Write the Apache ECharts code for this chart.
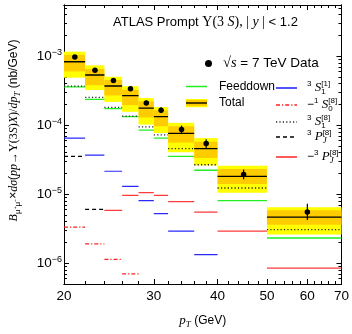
<!DOCTYPE html>
<html>
<head>
<meta charset="utf-8">
<script src="https://cdn.jsdelivr.net/npm/echarts@6/dist/echarts.min.js"></script>
<style>
  html, body { margin: 0; padding: 0; background: #fff; }
  #chart { width: 352px; height: 334px; }
</style>
</head>
<body>
<div id="chart"></div>
<script>
// pT bin edges (GeV)
const binEdges = [20, 22, 24, 26, 28, 30, 32, 36, 40, 50, 70];

// ATLAS measurement: bin centres, values and error bars (nb/GeV)
const dataPt = [21, 23, 25, 27, 29, 31, 34, 38, 45, 60];
const dataVal = [9.7e-4, 6.26e-4, 4.45e-4, 3.37e-4, 2.10e-4, 1.65e-4, 8.66e-5, 5.40e-5, 1.93e-5, 5.53e-6];
const dataLow = [9.1e-4, 5.87e-4, 4.17e-4, 3.16e-4, 1.94e-4, 1.50e-4, 7.62e-5, 4.68e-5, 1.64e-5, 4.21e-6];
const dataHigh = [1.03e-3, 6.67e-4, 4.74e-4, 3.59e-4, 2.27e-4, 1.82e-4, 9.85e-5, 6.24e-5, 2.27e-5, 7.27e-6];

// theory total with its two uncertainty bands
const totalVal = [8.28e-4, 5.33e-4, 3.69e-4, 2.67e-4, 1.77e-4, 1.33e-4, 7.62e-5, 4.56e-5, 1.81e-5, 4.66e-6];
const outerLow = [4.87e-4, 3.23e-4, 2.17e-4, 1.56e-4, 1.02e-4, 7.69e-5, 4.05e-5, 2.61e-5, 1.05e-5, 2.60e-6];
const outerHigh = [1.16e-3, 7.35e-4, 5.03e-4, 3.67e-4, 2.47e-4, 1.83e-4, 1.08e-4, 6.49e-5, 2.58e-5, 6.49e-6];
const innerLow = [6.00e-4, 3.79e-4, 2.69e-4, 1.95e-4, 1.29e-4, 9.63e-5, 5.58e-5, 3.34e-5, 1.40e-5, 3.61e-6];
const innerHigh = [1.04e-3, 6.51e-4, 4.50e-4, 3.26e-4, 2.22e-4, 1.64e-4, 9.63e-5, 5.76e-5, 2.31e-5, 5.84e-6];

// individual contributions (negative ones shown as magnitudes)
const feeddown = [3.59e-4, 2.37e-4, 1.73e-4, 1.33e-4, 8.47e-5, 6.49e-5, 3.53e-5, 2.22e-5, 8.05e-6, 2.32e-6];
const s1Octet = [3.67e-4, 2.52e-4, 1.81e-4, 1.35e-4, 9.41e-5, 7.21e-5, 4.56e-5, 2.67e-5, 1.23e-5, 3.07e-6];
const s1Singlet = [6.49e-5, 3.68e-5, 2.15e-5, 1.30e-5, 8.05e-6, 5.24e-6, 2.91e-6, 1.33e-6, null, null];
const s0OctetNeg = [3.34e-6, 1.90e-6, 1.14e-6, 7.0e-7, null, null, null, null, null, null];
const pjOctet = [3.53e-5, 6.03e-6, null, null, null, null, null, null, null, null];
const pjOctetNeg = [null, null, 5.84e-6, 9.63e-6, 1.05e-5, 9.63e-6, 7.79e-6, 5.48e-6, 2.91e-6, 8.5e-7];

// axis ticks
const xLabelTicks = [20, 30, 40, 50, 60, 70];
const xMinorTicks = [22, 24, 26, 28, 32, 34, 36, 38, 42, 44, 46, 48, 52, 54, 56, 58, 62, 64, 66, 68];
const yLabelTicks = [1e-6, 1e-5, 1e-4, 1e-3];
const yMinorTicks = [5e-7, 6e-7, 7e-7, 8e-7, 9e-7,
  2e-6, 3e-6, 4e-6, 5e-6, 6e-6, 7e-6, 8e-6, 9e-6,
  2e-5, 3e-5, 4e-5, 5e-5, 6e-5, 7e-5, 8e-5, 9e-5,
  2e-4, 3e-4, 4e-4, 5e-4, 6e-4, 7e-4, 8e-4, 9e-4,
  2e-3, 3e-3, 4e-3, 5e-3];

const X_MIN = 20, X_MAX = 70, Y_MIN = 5e-7, Y_MAX = 5.5e-3;
const SANS = '"Liberation Sans", Arial, sans-serif';
const SERIF = '"Liberation Serif", "DejaVu Serif", serif';

// horizontal per-bin segments, broken between bins
function segments(vals) {
  const out = [];
  vals.forEach((v, i) => {
    if (v == null) return;
    out.push([binEdges[i], v], [binEdges[i + 1], v], [binEdges[i + 1], null]);
  });
  return out;
}

// rich-text styles; "subz" has no advance so the following superscript stacks above it
function makeRich(base) {
  return {
    n: { fontFamily: SANS, fontSize: base, fontWeight: 'normal', lineHeight: 16, color: '#000' },
    m: { fontFamily: SERIF, fontSize: base + 1, fontWeight: 'normal', lineHeight: 16, color: '#000' },
    mi: { fontFamily: SERIF, fontStyle: 'italic', fontWeight: 'normal', fontSize: base + 1, lineHeight: 16, color: '#000' },
    sup: { fontFamily: SANS, fontSize: 8, fontWeight: 'normal', lineHeight: 8, verticalAlign: 'top', color: '#000' },
    sub: { fontFamily: SANS, fontSize: 8, fontWeight: 'normal', lineHeight: 8, verticalAlign: 'bottom', color: '#000' },
    subz: { fontFamily: SANS, fontSize: 8, fontWeight: 'normal', lineHeight: 8, verticalAlign: 'bottom', color: '#000', width: 0.01 },
    subiz: { fontFamily: SERIF, fontStyle: 'italic', fontWeight: 'normal', fontSize: 9, lineHeight: 8, verticalAlign: 'bottom', color: '#000', width: 0.01 },
    subi: { fontFamily: SERIF, fontStyle: 'italic', fontWeight: 'normal', fontSize: 9, lineHeight: 8, verticalAlign: 'bottom', color: '#000' }
  };
}
const rich = makeRich(12);

const legendText = {
  'Data': '{m|√}{mi|s}{n| = 7 TeV Data}',
  'Feeddown': '{n|Feeddown}',
  'Total': '{n|Total}',
  '3S1[1]': '{sup|3}{mi| S}{subz|1}{sup|[1]}',
  '-1S0[8]': '{n|−}{sup|1}{mi| S}{subz|0}{sup|[8]}',
  '3S1[8]': '{sup|3}{mi| S}{subz|1}{sup|[8]}',
  '3PJ[8]': '{sup|3}{mi| P}{subiz|J}{sup|[8]}',
  '-3PJ[8]': '{n|−}{sup|3}{mi| P}{subiz|J}{sup|[8]}'
};

function svgIcon(body, h) {
  return 'image://data:image/svg+xml;utf8,' + encodeURIComponent(
    "<svg xmlns='http://www.w3.org/2000/svg' width='21' height='" + h + "'>" + body + "</svg>");
}
function lineIcon(color, dash, width) {
  return svgIcon("<line x1='0' y1='4' x2='21' y2='4' stroke='" + color + "' stroke-width='" + width + "'" +
    (dash ? " stroke-dasharray='" + dash + "'" : '') + "/>", 8);
}
const totalIcon = svgIcon(
  "<rect width='21' height='9' fill='#ffff00'/>" +
  "<rect y='1.5' width='21' height='6' fill='#ffcc00'/>" +
  "<rect y='3.8' width='21' height='1.4' fill='#000'/>", 9);

const legendLayout = [
  { name: 'Data', left: 205, top: 56, icon: 'circle', w: 7, h: 7, pad: 6, font: 13.5 },
  { name: 'Feeddown', left: 186, top: 80.5, icon: lineIcon('#22ee22', '', 1.6), w: 21, h: 8, pad: 7 },
  { name: 'Total', left: 186, top: 97, icon: totalIcon, w: 21, h: 9, pad: 7 },
  { name: '3S1[1]', left: 276, top: 80, icon: lineIcon('#2a2aff', '', 1.6), w: 21, h: 8, pad: 5 },
  { name: '-1S0[8]', left: 276, top: 97, icon: lineIcon('#ff2020', '4,2,1.2,2', 1.5), w: 21, h: 8, pad: 5 },
  { name: '3S1[8]', left: 276, top: 114, icon: lineIcon('#222', '1.2,2.2', 1.5), w: 21, h: 8, pad: 5 },
  { name: '3PJ[8]', left: 276, top: 129, icon: lineIcon('#000', '4,3', 1.6), w: 21, h: 8, pad: 5 },
  { name: '-3PJ[8]', left: 276, top: 149, icon: lineIcon('#ff5a5a', '', 2), w: 21, h: 8, pad: 5 }
];

const legends = legendLayout.map(l => ({
  data: [{ name: l.name, icon: l.icon }],
  left: l.left, top: l.top, padding: 0, orient: 'horizontal',
  itemWidth: l.w, itemHeight: l.h, selectedMode: false,
  itemStyle: l.name === 'Data' ? { color: '#000' } : undefined,
  formatter: name => legendText[name],
  textStyle: { rich: l.font ? makeRich(l.font) : rich, padding: [0, 0, 0, l.pad] }
}));

const tickLine = { color: '#000', width: 1 };

function xAxisDef(pos, ticks, len, labels) {
  return {
    type: 'log', logBase: 10, min: X_MIN, max: X_MAX, position: pos,
    axisLine: { show: true, lineStyle: tickLine },
    axisTick: { show: true, inside: true, length: len, customValues: ticks, lineStyle: tickLine },
    axisLabel: labels ? {
      show: true, customValues: xLabelTicks, margin: 5,
      formatter: v => String(Math.round(v)),
      fontFamily: SANS, fontSize: 13.5, color: '#000'
    } : { show: false },
    splitLine: { show: false }, minorTick: { show: false }
  };
}
function yAxisDef(pos, ticks, len, labels) {
  return {
    type: 'log', logBase: 10, min: Y_MIN, max: Y_MAX, position: pos,
    axisLine: { show: true, lineStyle: tickLine },
    axisTick: { show: true, inside: true, length: len, customValues: ticks, lineStyle: tickLine },
    axisLabel: labels ? {
      show: true, customValues: yLabelTicks, margin: 2,
      formatter: v => {
        const e = Math.round(Math.log10(v));
        return '{b|10}{s|' + (e < 0 ? '−' : '') + Math.abs(e) + '}';
      },
      rich: {
        b: { fontFamily: SANS, fontSize: 13.5, lineHeight: 17, color: '#000' },
        s: { fontFamily: SANS, fontSize: 9, lineHeight: 9, verticalAlign: 'top', color: '#000' }
      }
    } : { show: false },
    splitLine: { show: false }, minorTick: { show: false }
  };
}

const xAxes = [
  xAxisDef('bottom', xLabelTicks, 5, true),
  xAxisDef('bottom', xMinorTicks, 3, false),
  xAxisDef('top', xLabelTicks, 5, false),
  xAxisDef('top', xMinorTicks, 3, false)
];
Object.assign(xAxes[0], {
  name: '{pi|p}{subi|T}{n| (GeV)}', nameLocation: 'middle', nameGap: 29,
  nameTextStyle: { rich: Object.assign({}, rich, {
    pi: { fontFamily: SERIF, fontStyle: 'italic', fontSize: 13, lineHeight: 16, color: '#000' }
  }) }
});
const yAxes = [
  yAxisDef('left', yLabelTicks, 5, true),
  yAxisDef('left', yMinorTicks, 3, false),
  yAxisDef('right', yLabelTicks, 5, false),
  yAxisDef('right', yMinorTicks, 3, false)
];
Object.assign(yAxes[0], {
  name: '{it|B}{sub|μ⁺μ⁻}{n|×}{it|dσ}{n|(}{it|pp}{n|→}{m|Υ(3}{it|S}{m|)}{it|X}{m|)/}{it|dp}{subi|T}{n| (nb/GeV)}',
  nameLocation: 'middle', nameGap: 42, nameRotate: 90,
  nameTextStyle: { rich: Object.assign({}, rich, {
    it: { fontFamily: SERIF, fontStyle: 'italic', fontSize: 12, lineHeight: 16, color: '#000' },
    m: { fontFamily: SERIF, fontSize: 12, lineHeight: 16, color: '#000' }
  }), padding: [0, 0, 0, 28] }
});

function lineSeries(name, vals, color, type, width) {
  return {
    name: name, type: 'line', data: segments(vals), symbol: 'none',
    connectNulls: false, animation: false, silent: true,
    lineStyle: { color: color, width: width || 1.2, type: type || 'solid' },
    itemStyle: { color: color }
  };
}

const option = {
  animation: false,
  backgroundColor: '#fff',
  title: {
    text: '{n|ATLAS Prompt }{m|Υ(3 }{mi|S}{m|), | }{mi|y}{m| | }{n|< 1.2}',
    left: 113, top: 14, padding: 0,
    textStyle: { fontWeight: 'normal', rich: makeRich(13) }
  },
  legend: legends,
  grid: { left: 55, right: 8, top: 5, bottom: 39, containLabel: false },
  xAxis: xAxes,
  yAxis: yAxes,
  series: [
    {
      name: 'Total band', type: 'custom', silent: true,
      data: binEdges.slice(0, -1).map((e, i) =>
        [e, binEdges[i + 1], outerLow[i], outerHigh[i], innerLow[i], innerHigh[i]]),
      renderItem: (params, api) => {
        const rect = (x0, x1, y0, y1, fill) => {
          const p0 = api.coord([x0, y1]);
          const p1 = api.coord([x1, y0]);
          return { type: 'rect', shape: { x: p0[0], y: p0[1], width: p1[0] - p0[0], height: p1[1] - p0[1] },
                   style: { fill: fill } };
        };
        const x0 = api.value(0), x1 = api.value(1);
        return { type: 'group', children: [
          rect(x0, x1, api.value(2), api.value(3), '#ffff00'),
          rect(x0, x1, api.value(4), api.value(5), '#ffcc00')
        ] };
      },
      encode: { x: [0, 1], y: [2, 3, 4, 5] }
    },
    lineSeries('Total', totalVal, '#000', 'solid', 1.3),
    lineSeries('Feeddown', feeddown, '#22ee22', 'solid', 1.3),
    lineSeries('3S1[8]', s1Octet, '#222', [1.2, 2.2], 1.3),
    lineSeries('3S1[1]', s1Singlet, '#2a2aff', 'solid', 1.2),
    lineSeries('-1S0[8]', s0OctetNeg, '#ff2020', [4, 2, 1.2, 2], 1.2),
    lineSeries('3PJ[8]', pjOctet, '#000', [4, 3], 1.2),
    lineSeries('-3PJ[8]', pjOctetNeg, '#ff3b3b', 'solid', 1.3),
    {
      name: 'Data error', type: 'custom', silent: true,
      data: dataPt.map((x, i) => [x, dataLow[i], dataHigh[i]]),
      renderItem: (params, api) => {
        const a = api.coord([api.value(0), api.value(1)]);
        const b = api.coord([api.value(0), api.value(2)]);
        return { type: 'line', shape: { x1: a[0], y1: a[1], x2: b[0], y2: b[1] },
                 style: { stroke: '#000', lineWidth: 1.2 } };
      },
      encode: { x: 0, y: [1, 2] }
    },
    {
      name: 'Data', type: 'scatter', symbol: 'circle', symbolSize: 5.5, silent: true,
      itemStyle: { color: '#000', opacity: 1 },
      data: dataPt.map((x, i) => [x, dataVal[i]])
    }
  ]
};

const chart = echarts.init(document.getElementById('chart'), null, { renderer: 'canvas' });
chart.setOption(option);
</script>
</body>
</html>
